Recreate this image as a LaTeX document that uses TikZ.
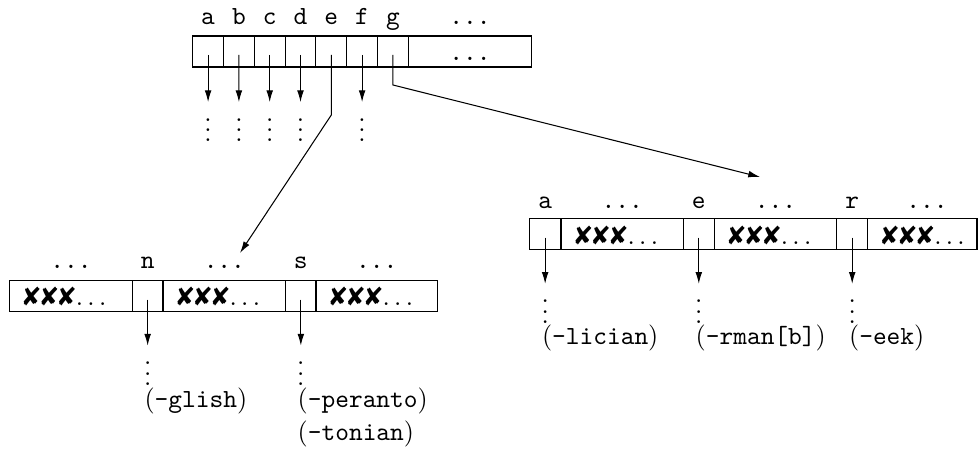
\documentclass[tikz,border=0pt]{standalone}
\usepackage{pifont}
\usetikzlibrary{arrows.meta}
\def\pxu{0.38268pt}
\tikzset{
  cellbox/.style={draw, rectangle, inner sep=0pt, outer sep=0pt, minimum height=31*\pxu},
  smallc/.style={cellbox, minimum width=30.8*\pxu},
  lbl/.style={font=\ttfamily, anchor=base, inner sep=0pt},
  xtext/.style={anchor=base west, inner sep=0pt},
  vd/.style={anchor=base, inner sep=0pt},
  word/.style={anchor=base west, inner sep=0pt},
  arr/.style={-{Latex[length=4.5pt,width=2.6pt]}},
}
\newcommand{\xxx}{\ding{56}\ding{56}\ding{56}$\ldots$}
\newcommand{\mydots}{\vbox{\baselineskip4pt\lineskiplimit0pt\hbox{.}\hbox{.}\hbox{.}}}
\begin{document}
\begin{tikzpicture}[x=0.38268pt,y=-0.38268pt,line width=0.4pt]
\useasboundingbox (0,0) rectangle (980,452);
% ---------- top array ----------
\foreach \n/\l [count=\k from 0] in {ta/a,tb/b,tc/c,td/d,te/e,tf/f,tg/g}{
  \node[smallc] (\n) at ({208.1+30.8*\k},51.5) {};
  \node[lbl] (\n-l) at ({208.1+30.8*\k},25) {\l};
}
\node[cellbox, minimum width=123.4*\pxu] (th) at (470,51.5) {};
\node[lbl] (th-l) at (470,25) {...};
\node[lbl] (th-in) at (470,61) {...};
\foreach \n/\xx in {ta/208.1,tb/238.9,tc/269.7,td/300.5,tf/362.1}{
  \node[vd] (\n-v) at (\xx,142) {\mydots};
  \draw[arr] ([yshift=-3.5*\pxu]\n.center) -- ([yshift=6pt]\n-v.north);
}
\coordinate (etip) at (240,253);
\coordinate (gtip) at (760,177);
\draw[arr] ([yshift=-3.5*\pxu]te.center) -- ++(0,60) -- (etip);
\draw[arr] ([yshift=-3.5*\pxu]tg.center) -- ++(0,30) -- (gtip);
% ---------- left array ----------
\node[cellbox, minimum width=123*\pxu] (l1) at (70.8,296.2) {};
\node[cellbox, minimum width=30.7*\pxu] (l2) at (147.65,296.2) {};
\node[cellbox, minimum width=122.7*\pxu] (l3) at (224.35,296.2) {};
\node[cellbox, minimum width=30.3*\pxu] (l4) at (300.85,296.2) {};
\node[cellbox, minimum width=121.3*\pxu] (l5) at (376.65,296.2) {};
\node[lbl] (l1-l) at (71,268.3) {...};
\node[lbl] (l2-l) at (147.65,268.3) {n};
\node[lbl] (l3-l) at (224.35,268.3) {...};
\node[lbl] (l4-l) at (300.85,268.3) {s};
\node[lbl] (l5-l) at (376.65,268.3) {...};
\node[xtext] (l1-x) at (22.3,305.7) {\xxx};
\node[xtext] (l3-x) at (176,305.7) {\xxx};
\node[xtext] (l5-x) at (329,305.7) {\xxx};
\node[vd] (l2-v) at (147.65,385.5) {\mydots};
\node[vd] (l4-v) at (300.85,385.5) {\mydots};
\draw[arr] ([yshift=-3.5*\pxu]l2.center) -- ([yshift=6pt]l2-v.north);
\draw[arr] ([yshift=-3.5*\pxu]l4.center) -- ([yshift=6pt]l4-v.north);
\node[word] (w-glish) at (144,407.5) {(\texttt{-glish})};
\node[word] (w-peranto) at (297.2,407.5) {(\texttt{-peranto})};
\node[word] (w-tonian) at (297.2,440.5) {(\texttt{-tonian})};
% ---------- right array ----------
\node[cellbox, minimum width=31.7*\pxu] (r1) at (545.15,234.2) {};
\node[cellbox, minimum width=122.3*\pxu] (r2) at (622.15,234.2) {};
\node[cellbox, minimum width=31*\pxu] (r3) at (698.8,234.2) {};
\node[cellbox, minimum width=122.4*\pxu] (r4) at (775.5,234.2) {};
\node[cellbox, minimum width=31*\pxu] (r5) at (852.2,234.2) {};
\node[cellbox, minimum width=109.3*\pxu] (r6) at (922.35,234.2) {};
\node[lbl] (r1-l) at (545.15,208.3) {a};
\node[lbl] (r2-l) at (622.15,208.3) {...};
\node[lbl] (r3-l) at (698.8,208.3) {e};
\node[lbl] (r4-l) at (775.5,208.3) {...};
\node[lbl] (r5-l) at (852.2,208.3) {r};
\node[lbl] (r6-l) at (927,208.3) {...};
\node[xtext] (r2-x) at (574,244.7) {\xxx};
\node[xtext] (r4-x) at (727.3,244.7) {\xxx};
\node[xtext] (r6-x) at (880.7,244.7) {\xxx};
\node[vd] (r1-v) at (545.15,323.7) {\mydots};
\node[vd] (r3-v) at (698.8,323.7) {\mydots};
\node[vd] (r5-v) at (852.2,323.7) {\mydots};
\draw[arr] ([yshift=-3.5*\pxu]r1.center) -- ([yshift=6pt]r1-v.north);
\draw[arr] ([yshift=-3.5*\pxu]r3.center) -- ([yshift=6pt]r3-v.north);
\draw[arr] ([yshift=-3.5*\pxu]r5.center) -- ([yshift=6pt]r5-v.north);
\node[word] (w-lician) at (541.5,344.5) {(\texttt{-lician})};
\node[word] (w-rman) at (695.2,344.5) {(\texttt{-rman[b]})};
\node[word] (w-eek) at (848.6,344.5) {(\texttt{-eek})};
\end{tikzpicture}
\end{document}
